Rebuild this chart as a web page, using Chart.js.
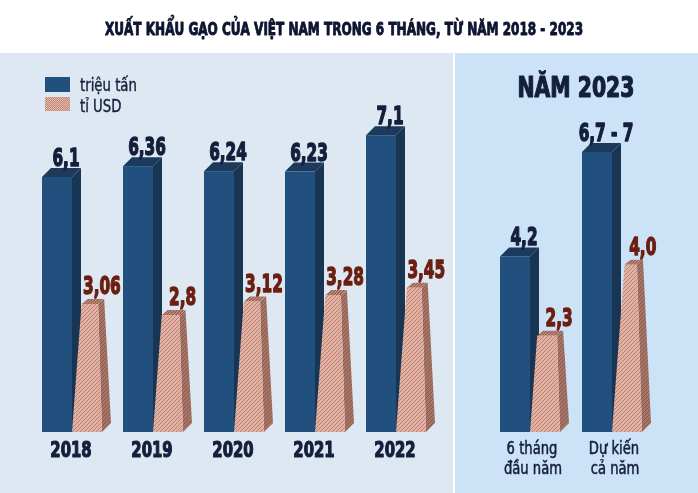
<!DOCTYPE html>
<html>
<head>
<meta charset="utf-8">
<script src="https://cdn.jsdelivr.net/npm/chart.js@4"></script>
<style>
  html, body { margin: 0; padding: 0; background: #fff; }
  #wrap { position: relative; width: 698px; height: 493px; overflow: hidden; }
  .panel { position: absolute; top: 53px; height: 440px; }
  #left { left: 0; width: 453px; background: #dde8f3; }
  #right { left: 455px; width: 243px; background: #cce2f6; }
  canvas { position: absolute; left: 0; top: 0; }
</style>
</head>
<body>
<div id="wrap">
  <div class="panel" id="left"></div>
  <div class="panel" id="right"></div>
  <canvas id="past" width="698" height="493"></canvas>
  <canvas id="now" width="698" height="493"></canvas>
</div>
<script>
// data
var years = ["2018", "2019", "2020", "2021", "2022"];
var tonnes = [6.1, 6.36, 6.24, 6.23, 7.1];      // triệu tấn
var usd = [3.06, 2.8, 3.12, 3.28, 3.45];         // tỉ USD
var periods = [["6 tháng", "đầu năm"], ["Dự kiến", "cả năm"]];
var tonnes2023 = [4.2, 6.7];
var tonnes2023Text = ["4,2", "6,7 - 7"];
var usd2023 = [2.3, 4.0];
var usd2023Text = ["2,3", "4,0"];

var COND = '"DejaVu Sans Condensed", "DejaVu Sans", sans-serif';
var NAVY = "#141f3b";
var RUST = "#6b1f10";
var BLUE = { front: "#21507e", side: "#183553", top: "#1b3a5c" };
var BROWN = { front: "#e2b3a4", line: "#b97e6d", side: "#a57466", top: "#9c6556" };

function stripes(bg, fg, size) {
  var c = document.createElement("canvas");
  c.width = size; c.height = size;
  var g = c.getContext("2d");
  g.fillStyle = bg; g.fillRect(0, 0, size, size);
  g.strokeStyle = fg; g.lineWidth = 1;
  g.beginPath();
  g.moveTo(0, size); g.lineTo(size, 0);
  g.moveTo(-1, 1); g.lineTo(1, -1);
  g.moveTo(size - 1, size + 1); g.lineTo(size + 1, size - 1);
  g.stroke();
  return g.createPattern(c, "repeat");
}

function poly(ctx, pts, fill) {
  ctx.beginPath();
  ctx.moveTo(pts[0][0], pts[0][1]);
  for (var i = 1; i < pts.length; i++) ctx.lineTo(pts[i][0], pts[i][1]);
  ctx.closePath();
  ctx.fillStyle = fill;
  ctx.fill();
}

// squeezed text, sx = horizontal scale (or fit to width), bold = extra stroke
function text(ctx, str, x, y, font, color, sx, width, bold) {
  ctx.save();
  ctx.font = font;
  if (width) sx = width / ctx.measureText(str).width;
  ctx.translate(x, y);
  ctx.scale(sx, 1);
  ctx.textAlign = "center";
  ctx.textBaseline = "alphabetic";
  ctx.fillStyle = color;
  ctx.fillText(str, 0, 0);
  if (bold) {
    ctx.strokeStyle = color;
    ctx.lineWidth = bold;
    ctx.lineJoin = "round";
    ctx.strokeText(str, 0, 0);
  }
  ctx.restore();
}

function drawBlue(ctx, bar) {
  var x0 = bar.x - bar.width / 2, x1 = bar.x + bar.width / 2;
  var top = bar.y, base = bar.base, d = 9;
  poly(ctx, [[x1, top], [x1 + d, top - d], [x1 + d, base], [x1, base]], BLUE.side);
  poly(ctx, [[x0, top], [x0 + d, top - d], [x1 + d, top - d], [x1, top]], BLUE.top);
  ctx.fillStyle = BLUE.front;
  ctx.fillRect(x0, top, x1 - x0, base - top);
}

function drawBrown(ctx, bar, pats) {
  var x0 = bar.x - bar.width / 2, x1 = bar.x + bar.width / 2;
  var top = bar.y, base = bar.base, h = base - top;
  var l = x0 + 0.075 * h, r = x1 - 0.03 * h;
  poly(ctx, [[x1, base], [x1 + 9, base - 9], [r + 6, top - 5], [r, top]], pats.side);
  poly(ctx, [[l, top], [l + 6, top - 5], [r + 6, top - 5], [r, top]], pats.top);
  poly(ctx, [[x0, base], [l, top], [r, top], [x1, base]], pats.front);
  return (l + r) / 2;
}

function comma(v) { return String(v).replace(".", ","); }

var bars3d = {
  id: "bars3d",
  afterDatasetsDraw: function (chart, args, opts) {
    var ctx = chart.ctx;
    var pats = {
      front: stripes(BROWN.front, BROWN.line, 4),
      side: stripes(BROWN.side, "#8a5a4d", 4),
      top: stripes(BROWN.top, "#c99585", 3)
    };
    var blue = chart.getDatasetMeta(0).data;
    var brown = chart.getDatasetMeta(1).data;
    var valueFont = "bold 25px " + COND;
    for (var i = 0; i < blue.length; i++) {
      drawBlue(ctx, blue[i]);
      var mid = drawBrown(ctx, brown[i], pats);
      text(ctx, opts.blueText[i], blue[i].x + 9, blue[i].y - 11, valueFont, NAVY, 0.68, 0, 1.4);
      text(ctx, opts.brownText[i], mid + 12, brown[i].y - 10, valueFont, RUST, 0.68, 0, 1.4);
    }
    // category labels under the bars
    var xs = chart.scales.x;
    chart.data.labels.forEach(function (lab, i) {
      var cx = xs.getPixelForValue(i);
      if (Array.isArray(lab)) {
        text(ctx, lab[0], cx + 2, 454, "17px " + COND, NAVY, 0.86, 0, 0.5);
        text(ctx, lab[1], cx + 3, 474, "17px " + COND, NAVY, 0.86, 0, 0.5);
      } else {
        text(ctx, lab, cx - 1, 457, "bold 22px " + COND, NAVY, 0.75, 0, 1.2);
      }
    });
  }
};

var headings = {
  id: "headings",
  afterDraw: function (chart, args, opts) {
    var ctx = chart.ctx;
    if (opts.title) {
      text(ctx, opts.title, 344, 35, "bold 18px " + COND, "#0d1530", 1, 478, 0.9);
    }
    if (opts.legend) {
      ctx.fillStyle = BLUE.front;
      ctx.fillRect(45, 77, 25, 15);
      ctx.fillStyle = stripes("#e6b8aa", "#c08a7b", 2);
      ctx.fillRect(45, 97, 25, 14);
      ctx.save();
      ctx.font = "18px " + COND;
      ctx.fillStyle = NAVY;
      ctx.strokeStyle = NAVY;
      ctx.lineWidth = 0.4;
      ctx.translate(80, 91);
      ctx.scale(0.82, 1);
      ctx.fillText(chart.data.datasets[0].label, 0, 0);
      ctx.strokeText(chart.data.datasets[0].label, 0, 0);
      ctx.fillText(chart.data.datasets[1].label, 0, 21);
      ctx.strokeText(chart.data.datasets[1].label, 0, 21);
      ctx.restore();
    }
    if (opts.subtitle) {
      text(ctx, opts.subtitle, 576, 97, "bold 28px " + COND, NAVY, 1, 117, 1.2);
    }
  }
};

function makeChart(id, labels, blueVals, brownVals, padding, catPct, plug) {
  return new Chart(document.getElementById(id), {
    type: "bar",
    data: {
      labels: labels,
      datasets: [
        { label: "triệu tấn", data: blueVals, backgroundColor: "rgba(0,0,0,0)" },
        { label: "tỉ USD", data: brownVals, backgroundColor: "rgba(0,0,0,0)" }
      ]
    },
    options: {
      responsive: false,
      animation: false,
      events: [],
      layout: { padding: padding },
      datasets: { bar: { categoryPercentage: catPct, barPercentage: 1 } },
      scales: {
        x: { display: false },
        y: { display: false, min: 0, max: 8 }
      },
      plugins: {
        legend: { display: false },
        tooltip: { enabled: false },
        bars3d: plug.bars,
        headings: plug.head
      }
    },
    plugins: [bars3d, headings]
  });
}

makeChart("past", years, tonnes, usd,
  { left: 31.5, right: 261.5, top: 97.6, bottom: 61 }, 60 / 81, {
    bars: { blueText: tonnes.map(comma), brownText: usd.map(comma) },
    head: { title: "XUẤT KHẨU GẠO CỦA VIỆT NAM TRONG 6 THÁNG, TỪ NĂM 2018 - 2023", legend: true }
  });

makeChart("now", periods, tonnes2023, usd2023,
  { left: 489, right: 45, top: 97.6, bottom: 61 }, 60 / 82, {
    bars: { blueText: tonnes2023Text, brownText: usd2023Text },
    head: { subtitle: "NĂM 2023" }
  });
</script>
</body>
</html>
